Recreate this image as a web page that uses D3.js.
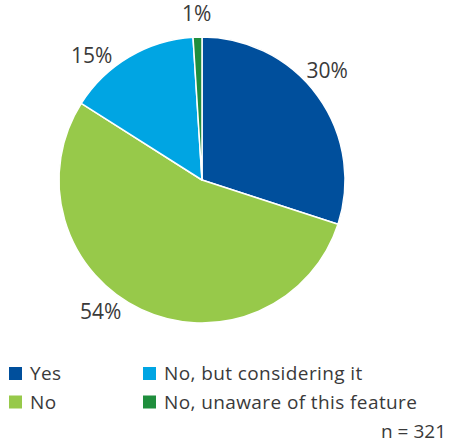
<!DOCTYPE html>
<html>
<head>
<meta charset="utf-8">
<script src="https://cdn.jsdelivr.net/npm/d3@7"></script>
<style>
  html, body { margin: 0; padding: 0; background: #fff; }
  svg text { font-family: "Open Sans", "Noto Sans", sans-serif; font-weight: 400; fill: #3a3a3a; }
</style>
</head>
<body>
<svg id="chart" width="449" height="446"></svg>
<script>
// Survey answers and their shares (percent)
const categories = ["Yes", "No", "No, but considering it", "No, unaware of this feature"];
const values = [30, 54, 15, 1];
const colors = ["#004f9c", "#97c94a", "#00a5e3", "#1f8e3d"];
const sampleNote = "n = 321";

// Legend arrangement: two columns, filled row by row
const legendOrder = ["Yes", "No, but considering it", "No", "No, unaware of this feature"];

const svg = d3.select("#chart");
const cx = 202, cy = 180, r = 143;

const color = d3.scaleOrdinal().domain(categories).range(colors);

const pie = d3.pie().sort(null).value(d => d.value);
const data = categories.map((c, i) => ({ name: c, value: values[i] }));
const arcs = pie(data);

const arc = d3.arc().innerRadius(0).outerRadius(r);

const g = svg.append("g").attr("transform", `translate(${cx},${cy})`);

g.selectAll("path.slice")
  .data(arcs)
  .enter().append("path")
  .attr("class", "slice")
  .attr("d", arc)
  .attr("fill", d => color(d.data.name))
  .attr("stroke", "#fff")
  .attr("stroke-width", 1.5)
  .attr("stroke-linejoin", "round");

// Percentage labels outside the rim; a small angular nudge per slice
// keeps each label clear of its neighbours and the slice edges.
const labelRadius = 166;
const labelNudgeDeg = { "Yes": -5, "No": 12.4, "No, but considering it": -11, "No, unaware of this feature": 0 };
function labelPos(d) {
  const a = (d.startAngle + d.endAngle) / 2 + labelNudgeDeg[d.data.name] * Math.PI / 180;
  return [labelRadius * Math.sin(a), -labelRadius * Math.cos(a)];
}
g.selectAll("text.pct")
  .data(arcs)
  .enter().append("text")
  .attr("class", "pct")
  .attr("transform", d => `translate(${labelPos(d)})`)
  .attr("text-anchor", "middle")
  .attr("dy", "0.35em")
  .style("font-size", "21px")
  .text(d => `${d.data.value}%`);

// Legend
const legend = svg.append("g");
const colX = [9, 143], rowY = [373.5, 402];
legendOrder.forEach((name, i) => {
  const x = colX[i % 2], y = rowY[Math.floor(i / 2)];
  legend.append("rect")
    .attr("x", x).attr("y", y - 6.5)
    .attr("width", 13).attr("height", 13)
    .attr("fill", color(name));
  legend.append("text")
    .attr("x", x + 21).attr("y", y)
    .attr("dy", "0.35em")
    .style("font-size", "19px")
    .style("letter-spacing", "0.4px")
    .text(name);
});

svg.append("text")
  .attr("x", 446).attr("y", 438)
  .attr("text-anchor", "end")
  .style("font-size", "19px")
  .text(sampleNote);
</script>
</body>
</html>
